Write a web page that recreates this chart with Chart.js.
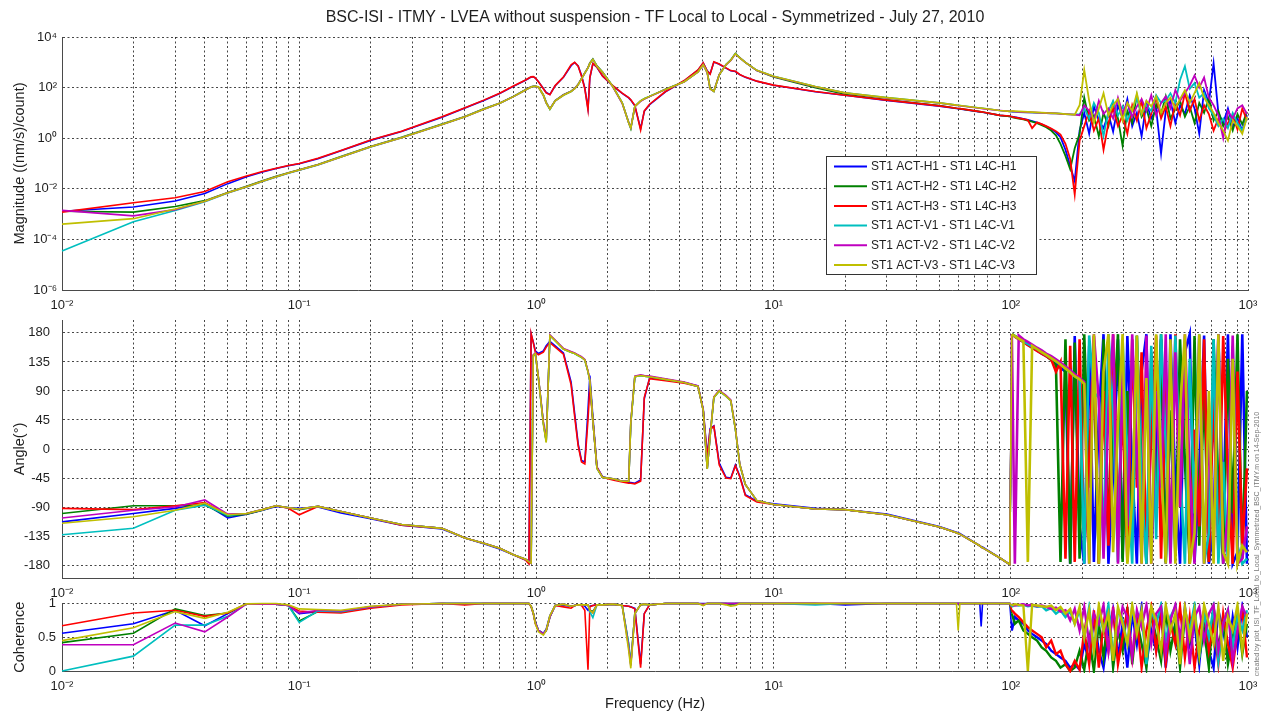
<!DOCTYPE html>
<html>
<head>
<meta charset="utf-8">
<title>BSC-ISI ITMY TF</title>
<script src="https://cdn.jsdelivr.net/npm/chart.js@4.4.1/dist/chart.umd.min.js"></script>
<style>
  body { margin: 0; background: #fff; }
  #wrap { position: relative; width: 1268px; height: 717px; }
  #wrap canvas { position: absolute; left: 0; top: 0; }
</style>
</head>
<body>
<div id="wrap">
  <canvas id="magChart" width="1268" height="717"></canvas>
  <canvas id="phaseChart" width="1268" height="717"></canvas>
  <canvas id="cohChart" width="1268" height="717"></canvas>
</div>
<script>
// ---- data ----
const freq = [
  0.01, 0.02, 0.03, 0.04, 0.05, 0.06, 0.07, 0.08, 0.09, 0.1,
  0.12, 0.15, 0.2, 0.27, 0.4, 0.5, 0.6, 0.7, 0.8, 0.9,
  0.93, 0.95, 0.97, 0.99, 1.02, 1.07, 1.1, 1.14, 1.2, 1.3,
  1.4, 1.45, 1.5, 1.55, 1.6, 1.65, 1.68, 1.73, 1.8, 1.9,
  2.1, 2.3, 2.45, 2.5, 2.6, 2.75, 2.85, 3.0, 3.5, 4.2,
  4.8, 5.05, 5.25, 5.4, 5.6, 5.9, 6.3, 6.6, 6.9, 7.2,
  7.6, 8.5, 10, 15, 20, 30, 50, 59, 60, 61, 74, 75, 76, 90,
  99, 101, 104, 108, 113, 118, 123, 129, 135, 141,
  148, 155, 162, 170, 178, 186, 195, 204, 214, 224,
  235, 246, 258, 270, 283, 296, 310, 325, 340, 356,
  373, 391, 410, 430, 450, 471, 494, 517, 542, 568,
  595, 623, 653, 684, 716, 750, 786, 823, 862, 903,
  946, 990
];

const seriesNames = [
  'ST1 ACT-H1 - ST1 L4C-H1', 'ST1 ACT-H2 - ST1 L4C-H2', 'ST1 ACT-H3 - ST1 L4C-H3',
  'ST1 ACT-V1 - ST1 L4C-V1', 'ST1 ACT-V2 - ST1 L4C-V2', 'ST1 ACT-V3 - ST1 L4C-V3'
];
const seriesColors = ['#0000ff', '#008000', '#ff0000', '#00bfbf', '#bf00bf', '#bfbf00'];

// magnitude ((nm/s)/count)
const magH1 = [
  1.3e-3, 1.9e-3, 3.3e-3, 6.5e-3, 0.016, 0.030, 0.046, 0.063, 0.081, 0.098,
  0.155, 0.32, 0.82, 1.85, 6.8, 15.5, 31, 58, 112, 195,
  235, 260, 268, 238, 172, 92, 64, 54, 118, 255,
  730, 980, 720, 300, 95, 15, 240, 880, 640, 285,
  118, 59, 39, 32, 19, 2.4, 11.5, 21, 68, 185,
  490, 930, 460, 350, 1020, 840, 590, 460, 430, 325,
  255, 178, 123, 69, 50, 31, 18.5, 15, 14.5, 14.2, 11, 10.8, 10.6, 8,
  7.3, 7.2, 6.8, 6.3, 5.8, 5.3, 4.7, 4.1, 3.5, 2.9,
  2.3, 1.7, 1.1, 0.35, 0.08, 0.02, 2, 10, 1.5, 18,
  5, 2.5, 9, 1.8, 20, 6, 35, 3, 10, 1.2,
  25, 6, 14, 0.25, 12, 30, 4, 20, 9, 50,
  15, 1.5, 80, 25, 900, 10, 4, 15, 3, 6,
  2, 8
];
const magH2 = [
  1.3e-3, 1.2e-3, 2.0e-3, 3.4e-3, 7.2e-3, 0.0125, 0.021, 0.031, 0.043, 0.056,
  0.092, 0.19, 0.47, 1.08, 3.6, 7.2, 14.5, 24, 45, 82,
  97, 107, 112, 113, 106, 52, 26, 14, 31, 52,
  72, 92, 135, 230, 380, 620, 950, 1350, 720, 410,
  112, 25, 4.2, 2.4, 18, 30, 36, 45, 86, 172,
  425, 820, 410, 92, 72, 330, 820, 1250, 2250, 1550,
  1000, 470, 260, 100, 55, 33, 19.5, 15.2, 15, 14.8, 11.2, 11, 10.8, 8,
  7.2, 6.8, 6.4, 6, 5.5, 5, 4.5, 3.9, 3.3, 2.7,
  2, 1.3, 0.6, 0.2, 0.06, 0.4, 1.5, 40, 5, 8,
  1.2, 10, 3, 25, 6, 0.5, 12, 4, 50, 7,
  15, 3, 22, 9, 45, 6, 14, 30, 7, 18,
  4, 25, 10, 40, 5, 12, 3, 7, 2, 9,
  3.5, 11
];
const magH3 = [
  1.2e-3, 2.8e-3, 4.4e-3, 7.8e-3, 0.019, 0.032, 0.048, 0.065, 0.083, 0.10,
  0.16, 0.33, 0.85, 1.9, 7, 16, 32, 60, 115, 200,
  240, 265, 270, 240, 170, 90, 62, 52, 120, 260,
  800, 1000, 700, 280, 90, 13, 250, 900, 650, 290,
  120, 60, 40, 33, 20, 2.1, 12, 22, 70, 190,
  500, 950, 450, 340, 1050, 850, 600, 470, 440, 330,
  260, 180, 125, 70, 50, 32, 19, 15.2, 15, 14.8, 11.2, 11, 10.8, 8,
  7.5, 7, 6.6, 6.2, 5.7, 5.2, 2.5, 4.2, 3.6, 3,
  2.4, 1.9, 1.4, 0.6, 0.15, 0.006, 0.8, 3, 12, 2,
  6, 0.35, 4, 15, 3, 8, 1.5, 20, 5, 30,
  2.5, 9, 40, 6, 18, 3, 25, 8, 60, 12,
  35, 5, 20, 9, 2, 6, 1.5, 4, 8, 2.2,
  15, 5
];
const magV1 = [
  3.5e-5, 5e-4, 1.4e-3, 3.1e-3, 6.8e-3, 0.0118, 0.0195, 0.029, 0.041, 0.054,
  0.088, 0.18, 0.45, 1.04, 3.5, 7, 14, 24, 44, 80,
  95, 105, 110, 112, 105, 50, 25, 14, 30, 50,
  70, 90, 130, 220, 370, 600, 900, 1300, 700, 400,
  110, 25, 4, 2.5, 18, 30, 36, 45, 85, 170,
  420, 800, 400, 90, 70, 320, 800, 1200, 2200, 1500,
  1000, 480, 280, 110, 62, 40, 25, 20.3, 20, 19.7, 15.7, 15.5, 15.3, 12.5,
  11.5, 11, 11, 10.8, 10.5, 10.5, 10.3, 10, 10, 9.8,
  9.6, 9.5, 9.3, 9, 8.8, 8.5, 9, 15, 6, 25,
  10, 1.2, 12, 30, 8, 18, 5, 14, 40, 9,
  20, 12, 50, 25, 30, 60, 25, 200, 700, 90,
  150, 40, 60, 15, 8, 3, 6, 2.5, 10, 4,
  2, 6
];
const magV2 = [
  1.4e-3, 8.5e-4, 1.5e-3, 3.2e-3, 7e-3, 0.012, 0.02, 0.03, 0.042, 0.055,
  0.09, 0.18, 0.46, 1.05, 3.5, 7, 14, 24, 44, 80,
  96, 106, 111, 112, 104, 49, 25, 14.5, 30, 51,
  71, 91, 132, 225, 375, 610, 910, 1280, 690, 395,
  108, 24, 4.1, 2.6, 17.5, 29, 35, 44, 84, 168,
  415, 790, 395, 88, 71, 325, 790, 1180, 2150, 1480,
  990, 470, 275, 108, 61, 39, 24.5, 19.8, 19.5, 19.2, 15.2, 15, 14.8, 12.5,
  11.5, 11.5, 11.2, 11, 10.8, 10.6, 10.4, 10.2, 10, 9.9,
  9.7, 9.5, 9.2, 9, 8.8, 8.6, 8, 20, 12, 5,
  30, 9, 15, 6, 40, 10, 25, 7, 18, 35,
  12, 50, 8, 25, 45, 15, 80, 30, 60, 120,
  300, 100, 250, 40, 20, 8, 1, 12, 6, 15,
  20, 9
];
const magV3 = [
  4e-4, 6.6e-4, 1.6e-3, 3.2e-3, 7e-3, 0.012, 0.02, 0.03, 0.042, 0.055,
  0.09, 0.18, 0.46, 1.05, 3.5, 7, 14, 24, 44, 80,
  95, 105, 110, 112, 105, 50, 25, 14, 30, 50,
  70, 90, 130, 220, 370, 600, 900, 1300, 700, 400,
  110, 25, 4, 2.5, 18, 30, 36, 45, 85, 170,
  420, 800, 400, 90, 70, 320, 800, 1200, 2200, 1500,
  1000, 480, 280, 110, 62, 40, 25, 20.3, 20, 19.7, 15.7, 15.5, 15.3, 12.5,
  11.5, 12, 11.8, 11.5, 11.2, 11, 10.8, 10.5, 10.3, 10,
  9.8, 9.5, 9.3, 9, 8.8, 8.5, 20, 500, 30, 4,
  15, 60, 8, 20, 35, 5, 25, 12, 60, 9,
  30, 18, 45, 10, 25, 40, 15, 35, 80, 25,
  60, 150, 40, 20, 10, 4, 2, 0.8, 5, 3,
  1.5, 7
];

// phase (degrees)
const phH1 = [
  -113, -100, -92, -85, -107, -101, -95, -89, -91, -92,
  -90, -99, -108, -118, -124, -138, -147, -155, -164, -172,
  -177, 178, 166, 152, 148, 152, 160, 167, 160, 149,
  104, 55, 8, -18, -20, 60, 114, 50, -28, -43,
  -47, -50, -52, -52, -53, -48, 78, 110, 107, 103,
  98, 62, -10, 32, 36, -22, -44, -45, -25, -42,
  -71, -81, -85, -92, -94, -101, -120, -129, -130, -131, -150, -151, -152, -169,
  -179, 178, 175, 171, 166, 162, 157, 153, 148, 144,
  139, 133, 126, 120, -178, 175, -120, -178, 160, -175,
  50, 178, -178, -40, 170, -170, 175, -30, -178, 120,
  178, -160, -10, 170, -178, 178, -60, -178, 150, 178,
  -175, -40, 176, -178, -120, 178, -100, 178, -178, -160,
  178, -178
];
const phH2 = [
  -100, -88, -88, -87, -104, -101, -95, -88, -91, -94,
  -89, -97, -107, -117, -123, -138, -146, -154, -164, -171,
  -174, -177, 145, 148, 110, 40, 12, 176, 168, 155,
  150, 148, 145, 142, 138, 120, 106, 44, -30, -44,
  -46, -50, -50, 40, 112, 114, 113, 112, 108, 103,
  97, 60, -31, 20, 80, 90, 82, 75, 31, -24,
  -55, -80, -86, -93, -94, -102, -121, -130, -131, -132, -150, -152, -153, -169,
  -179, 178, 175, 171, 167, 163, 158, 154, 149, 145,
  138, 130, -175, 170, -178, 165, -170, 178, -60, 120,
  -178, 170, -120, 40, 178, -175, 90, -140, 176, -30,
  -178, 150, -100, 178, -175, 60, -165, 170, -20, -178,
  175, -150, 100, -175, 170, -60, -178, 140, -100, 178,
  -170, 90
];
const phH3 = [
  -92, -94, -88, -83, -102, -100, -94, -88, -92, -102,
  -89, -97, -107, -118, -123, -138, -146, -154, -164, -172,
  -178, 179, 165, 150, 146, 150, 158, 165, 158, 147,
  100, 50, 5, -20, -23, 45, 96, 44, -28, -44,
  -48, -51, -53, -53, -54, -50, 80, 109, 106, 102,
  97, 60, -13, 30, 35, -25, -45, -46, -26, -43,
  -72, -82, -86, -93, -94, -102, -121, -130, -131, -132, -150, -152, -153, -169,
  -179, 178, 174, 170, 166, 161, 157, 152, 148, 144,
  139, 120, 135, -170, 160, -175, 170, -160, -20, 175,
  -178, 90, -150, 178, -100, 60, -175, 170, -60, 150,
  -178, 20, 176, -170, 100, -140, 178, -90, 165, -178,
  30, -120, 170, -175, 80, -160, 175, -40, -178, 120,
  -150, -30
];
const phV1 = [
  -133, -123, -95, -87, -103, -100, -94, -88, -91, -93,
  -89, -97, -107, -117, -123, -138, -146, -154, -164, -171,
  -174, -177, 145, 148, 110, 40, 12, 176, 168, 155,
  150, 148, 145, 142, 138, 120, 106, 44, -30, -44,
  -46, -50, -50, 40, 112, 114, 113, 112, 108, 103,
  97, 60, -31, 20, 80, 90, 82, 75, 31, -24,
  -55, -80, -86, -93, -94, -102, -121, -130, -131, -132, -150, -152, -153, -169,
  -179, 178, 175, 171, 167, 163, 159, 155, 150, 146,
  141, 136, 131, 125, 119, 113, 108, -178, 176, 87,
  80, -150, 178, 55, -175, 170, -20, -178, 175, -60,
  -178, 160, -140, 178, 10, -175, 176, -30, -178, 140,
  -100, 178, -178, -130, 170, -178, -20, -178, 160, -150,
  -178, -170
];
const phV2 = [
  -107, -95, -90, -79, -101, -100, -94, -88, -91, -93,
  -89, -97, -107, -117, -123, -138, -146, -154, -164, -171,
  -174, -177, 146, 149, 111, 42, 13, 177, 169, 156,
  151, 149, 146, 143, 139, 121, 107, 45, -29, -44,
  -46, -50, -50, 42, 113, 115, 114, 113, 109, 104,
  98, 61, -30, 21, 81, 91, 83, 76, 32, -23,
  -55, -80, -86, -93, -94, -102, -121, -130, -131, -132, -150, -152, -153, -169,
  -179, 178, -178, 176, 170, 166, 162, 157, 153, 148,
  144, 139, 134, 128, 122, 116, 110, 104, -178, 178,
  75, -170, 60, 178, -178, 120, -120, 178, -10, -178,
  176, -178, 90, -60, 178, -178, 150, -90, 178, -40,
  -178, 176, -178, 30, -160, 178, -178, -100, 176, -178,
  -170, -120
];
const phV3 = [
  -115, -105, -95, -84, -102, -100, -94, -88, -91, -93,
  -89, -97, -107, -117, -123, -138, -146, -154, -164, -171,
  -175, -177, 145, 148, 110, 38, 10, 176, 168, 155,
  150, 148, 145, 142, 138, 120, 106, 44, -30, -44,
  -46, -50, -50, 40, 112, 114, 113, 112, 108, 103,
  97, 60, -31, 20, 80, 90, 82, 75, 31, -24,
  -55, -80, -86, -93, -94, -102, -121, -130, -131, -132, -150, -152, -153, -169,
  -179, 178, 175, 171, 167, -175, 160, 155, 150, 146,
  141, 136, 131, 125, 119, 113, 108, 101, -178, 178,
  -178, 120, 178, -160, 40, 178, -178, -80, 176, -178,
  110, -178, 178, -20, -178, 170, -178, 60, 178, -178,
  -130, 178, -178, 90, -178, 178, -160, -178, 140, -178,
  -150, -160
];

// coherence
const cohH1 = [
  0.56, 0.70, 0.90, 0.67, 0.85, 0.995, 0.99, 0.99, 0.97, 0.85,
  0.88, 0.88, 0.94, 0.99, 1, 1, 1, 1, 1, 1,
  1, 0.96, 0.86, 0.72, 0.6, 0.56, 0.62, 0.82, 0.97, 0.97,
  0.96, 0.97, 0.98, 0.98, 0.96, 0.9, 0.96, 0.97, 0.98, 0.98,
  0.99, 0.97, 0.96, 0.95, 0.93, 0.1, 0.85, 0.98, 1, 1,
  1, 1, 1, 1, 1, 1, 1, 1, 1, 1,
  1, 1, 1, 1, 0.98, 1, 1, 1, 1, 1, 1, 0.66, 1, 1,
  1, 0.6, 0.8, 0.75, 0.7, 0.6, 0.55, 0.5, 0.45, 0.4,
  0.3, 0.25, 0.2, 0.15, 0.05, 0.1, 0.02, 0.4, 0.15, 0.8,
  0.3, 0.05, 0.6, 0.9, 0.2, 0.7, 0.05, 0.85, 0.4, 0.95,
  0.1, 0.6, 0.3, 0.9, 0.05, 0.75, 0.5, 0.2, 0.95, 0.4,
  0.7, 0.1, 0.85, 0.3, 0.05, 0.9, 0.6, 0.2, 0.8, 0.35,
  0.95, 0.5
];
const cohH2 = [
  0.42, 0.56, 0.92, 0.82, 0.86, 0.995, 0.99, 0.99, 0.97, 0.74,
  0.88, 0.87, 0.94, 0.99, 1, 1, 1, 1, 1, 1,
  1, 0.96, 0.86, 0.72, 0.6, 0.55, 0.6, 0.8, 0.97, 0.99,
  0.96, 0.97, 0.98, 0.98, 0.98, 0.98, 0.9, 0.88, 0.98, 0.98,
  0.99, 0.97, 0.4, 0.1, 0.86, 0.98, 0.99, 0.98, 1, 1,
  1, 0.98, 1, 1, 1, 1, 1, 0.98, 1, 1,
  1, 1, 1, 1, 1, 1, 1, 1, 1, 1, 1, 1, 1, 1,
  1, 0.85, 0.7, 0.75, 0.6, 0.55, 0.5, 0.45, 0.35, 0.3,
  0.2, 0.15, 0.05, 0.1, 0.0, 0.05, 0.3, 0.02, 0.5, 0.0,
  0.7, 0.2, 0.9, 0.05, 0.6, 0.3, 0.95, 0.1, 0.75, 0.4,
  0.05, 0.85, 0.5, 0.15, 0.9, 0.3, 0.7, 0.05, 0.8, 0.45,
  0.9, 0.2, 0.6, 0.05, 0.95, 0.35, 0.75, 0.1, 0.5, 0.85,
  0.25, 0.7
];
const cohH3 = [
  0.67, 0.86, 0.90, 0.81, 0.86, 0.995, 0.99, 0.99, 0.97, 0.89,
  0.87, 0.86, 0.93, 0.98, 1, 0.98, 1, 1, 1, 1,
  1, 0.95, 0.85, 0.7, 0.6, 0.55, 0.6, 0.8, 0.97, 0.95,
  0.93, 0.97, 0.98, 0.97, 0.9, 0.02, 0.95, 0.97, 0.98, 0.98,
  0.99, 0.97, 0.96, 0.95, 0.92, 0.05, 0.85, 0.98, 1, 1,
  1, 0.99, 1, 1, 1, 1, 1, 1, 1, 1,
  1, 1, 1, 1, 1, 1, 1, 1, 1, 1, 1, 1, 1, 1,
  1, 0.9, 0.85, 0.8, 0.72, 0.65, 0.6, 0.55, 0.5, 0.35,
  0.45, 0.25, 0.3, 0.1, 0.0, 0.15, 0.02, 0.6, 0.1, 0.9,
  0.05, 0.7, 0.3, 0.95, 0.1, 0.5, 0.9, 0.2, 0.8, 0.05,
  0.6, 0.95, 0.3, 0.85, 0.1, 0.7, 0.4, 0.95, 0.2, 0.8,
  0.05, 0.6, 0.9, 0.3, 0.7, 0.1, 0.85, 0.4, 0.05, 0.6,
  0.9, 0.2
];
const cohV1 = [
  0.0, 0.22, 0.68, 0.68, 0.81, 0.995, 0.99, 0.99, 0.97, 0.72,
  0.89, 0.88, 0.95, 0.99, 1, 1, 1, 1, 1, 1,
  1, 0.96, 0.86, 0.72, 0.6, 0.55, 0.6, 0.8, 0.97, 0.99,
  0.96, 0.97, 0.98, 0.98, 0.98, 0.98, 0.88, 0.79, 0.98, 0.98,
  0.99, 0.97, 0.4, 0.1, 0.85, 0.98, 0.99, 0.98, 1, 1,
  1, 0.98, 1, 1, 1, 1, 1, 1, 1, 1,
  1, 1, 1, 0.98, 1, 1, 1, 1, 1, 1, 1, 1, 1, 1,
  1, 0.95, 0.98, 0.97, 0.98, 0.96, 0.97, 0.95, 0.96, 0.9,
  0.93, 0.85, 0.9, 0.8, 0.88, 0.7, 0.9, 0.5, 0.95, 0.3,
  0.85, 0.6, 0.98, 0.2, 0.9, 0.75, 0.4, 0.95, 0.6, 0.85,
  0.1, 0.9, 0.7, 0.98, 0.45, 0.8, 0.95, 0.3, 0.9, 0.6,
  0.98, 0.2, 0.85, 0.5, 0.95, 0.15, 0.7, 0.9, 0.35, 0.8,
  0.6, 0.9
];
const cohV2 = [
  0.39, 0.39, 0.71, 0.58, 0.80, 0.995, 0.99, 0.99, 0.97, 0.86,
  0.9, 0.89, 0.95, 0.99, 1, 1, 1, 1, 1, 1,
  1, 0.96, 0.86, 0.72, 0.6, 0.55, 0.6, 0.8, 0.97, 0.99,
  0.96, 0.97, 0.98, 0.98, 0.98, 0.98, 0.9, 0.86, 0.98, 0.98,
  0.99, 0.97, 0.35, 0.08, 0.85, 0.98, 0.99, 0.98, 1, 1,
  1, 0.98, 1, 1, 1, 1, 1, 1, 1, 1,
  1, 1, 1, 1, 1, 1, 1, 1, 1, 1, 1, 1, 1, 1,
  1, 0.98, 0.97, 0.98, 0.99, 0.97, 0.98, 0.96, 0.97, 0.95,
  0.92, 0.94, 0.88, 0.9, 0.75, 0.92, 0.6, 0.95, 0.4, 0.85,
  0.7, 0.98, 0.3, 0.9, 0.55, 0.95, 0.8, 0.2, 0.9, 0.65,
  0.98, 0.4, 0.85, 0.95, 0.25, 0.75, 0.98, 0.5, 0.9, 0.1,
  0.8, 0.95, 0.45, 0.85, 0.98, 0.3, 0.7, 0.9, 0.15, 0.6,
  0.95, 0.8
];
const cohV3 = [
  0.45, 0.64, 0.88, 0.78, 0.87, 0.995, 1, 1, 0.98, 0.92,
  0.91, 0.9, 0.96, 0.99, 1, 1, 1, 1, 1, 1,
  1, 0.96, 0.86, 0.7, 0.58, 0.53, 0.6, 0.82, 0.97, 0.99,
  0.96, 0.97, 0.98, 0.98, 0.98, 0.98, 0.9, 0.86, 0.98, 0.98,
  0.99, 0.97, 0.3, 0.04, 0.85, 0.98, 0.99, 0.98, 1, 1,
  1, 0.97, 1, 1, 1, 1, 0.98, 0.96, 0.97, 1,
  1, 1, 1, 1, 1, 1, 1, 1, 0.6, 1, 1, 1, 1, 1,
  1, 0.97, 0.99, 0.98, 0.97, 0.0, 0.98, 0.97, 0.96, 0.95,
  0.97, 0.9, 0.95, 0.85, 0.92, 0.7, 0.95, 0.5, 0.9, 0.3,
  0.98, 0.6, 0.85, 0.15, 0.95, 0.7, 0.4, 0.98, 0.55, 0.9,
  0.2, 0.95, 0.75, 0.3, 0.98, 0.6, 0.85, 0.1, 0.95, 0.5,
  0.9, 0.25, 0.98, 0.7, 0.4, 0.95, 0.15, 0.8, 0.6, 0.98,
  0.3, 0.85
];

// tick values and labels
const xDecades = [0.01, 0.1, 1, 10, 100, 1000];
const xDecadeLabels = ['10⁻²', '10⁻¹', '10⁰', '10¹', '10²', '10³'];
const magTicks = [1e-6, 1e-4, 1e-2, 1, 1e2, 1e4];
const magTickLabels = ['10⁻⁶', '10⁻⁴', '10⁻²', '10⁰', '10²', '10⁴'];
const angleTicks = [-180, -135, -90, -45, 0, 45, 90, 135, 180];
const cohTicks = [0, 0.5, 1];

// minor grid lines at 2..9 of every decade
const xGridValues = [];
xDecades.forEach((d, i) => {
  if (i === xDecades.length - 1) { xGridValues.push(d); return; }
  for (let k = 1; k < 10; k++) xGridValues.push(+(d * k).toPrecision(3));
});

// ---- styling ----
const FONT = '"Liberation Sans", Arial, Helvetica, sans-serif';
const TEXT = '#1e1e1e';
Chart.defaults.font.family = FONT;
Chart.defaults.color = TEXT;

const GRID = { color: 'rgba(0,0,0,0.72)', lineWidth: 1, drawTicks: false };
const BORDER = { color: '#4a4a4a', width: 1, dash: [2, 2.5] };
const LEFT = 62, RIGHT = 1248;

// noisyWidth: thicker strokes above 100 Hz where the traces pile up
function makeDatasets(arrays, noisyWidth) {
  return arrays.map((values, i) => ({
    label: seriesNames[i],
    data: values,
    borderColor: seriesColors[i],
    backgroundColor: seriesColors[i],
    borderWidth: 1.6,
    pointRadius: 0,
    tension: 0,
    fill: false,
    clip: 2,
    segment: {
      borderWidth: ctx => (noisyWidth && ctx.p0.parsed.x >= 100 ? noisyWidth : undefined)
    },
    order: arrays.length - i   // later series drawn on top, like MATLAB
  }));
}

function xScale(height, withTitle) {
  return {
    type: 'logarithmic',
    min: 0.01,
    max: 1000,
    afterBuildTicks: s => { s.ticks = xGridValues.map(v => ({ value: v })); },
    afterFit: s => { s.height = height; s.paddingLeft = 0; s.paddingRight = 0; },
    ticks: {
      autoSkip: false, maxRotation: 0, minRotation: 0, padding: 8,
      font: { size: 13 }, color: TEXT,
      callback: v => { const k = xDecades.indexOf(v); return k < 0 ? '' : xDecadeLabels[k]; }
    },
    grid: GRID,
    border: BORDER,
    title: {
      display: withTitle, text: 'Frequency (Hz)', color: TEXT,
      font: { size: 14.5 }, padding: { top: 0, bottom: 4 }
    }
  };
}

function yScale(base, titleText, tickPad) {
  return Object.assign({
    afterFit: s => { s.width = LEFT; s.paddingTop = 0; s.paddingBottom = 0; },
    grid: GRID,
    border: BORDER,
    title: {
      display: true, text: titleText, color: TEXT,
      font: { size: 14.5 }, padding: { top: 11, bottom: 0 }
    }
  }, base, {
    ticks: Object.assign({ autoSkip: false, padding: tickPad, font: { size: 13 }, color: TEXT }, base.ticks)
  });
}

// legend box drawn inside the magnitude panel
const legendBox = {
  id: 'legendBox',
  afterDraw(chart) {
    const ctx = chart.ctx;
    const x0 = 826, y0 = 156, w = 210, h = 118, row = 19.7;
    ctx.save();
    ctx.fillStyle = '#fff';
    ctx.fillRect(x0, y0, w, h);
    ctx.strokeStyle = '#333';
    ctx.lineWidth = 1;
    ctx.strokeRect(x0 + 0.5, y0 + 0.5, w, h);
    ctx.font = '12px ' + FONT;
    ctx.textBaseline = 'middle';
    chart.data.datasets.forEach((ds, i) => {
      const y = y0 + 10.5 + i * row;
      ctx.strokeStyle = ds.borderColor;
      ctx.lineWidth = 2;
      ctx.beginPath();
      ctx.moveTo(x0 + 8, y);
      ctx.lineTo(x0 + 41, y);
      ctx.stroke();
      ctx.fillStyle = TEXT;
      ctx.fillText(ds.label, x0 + 45, y + 0.5);
    });
    ctx.restore();
  }
};

// small rotated "created by" note at the right edge
const creatorNote = {
  id: 'creatorNote',
  afterDraw(chart) {
    const ctx = chart.ctx;
    ctx.save();
    ctx.translate(1257, 544);
    ctx.rotate(-Math.PI / 2);
    ctx.font = '7px ' + FONT;
    ctx.fillStyle = '#777';
    ctx.textAlign = 'center';
    ctx.textBaseline = 'middle';
    ctx.fillText('created by plot_ISI_TF_Local_to_Local_Symmetrized_BSC_ITMY.m on 14-Sep-2010', 0, 0);
    ctx.restore();
  }
};

const common = {
  responsive: false,
  animation: false,
  devicePixelRatio: 1,
  events: [],
  plugins: { legend: { display: false }, tooltip: { enabled: false } }
};

// ---- magnitude ----
new Chart(document.getElementById('magChart'), {
  type: 'line',
  data: { labels: freq, datasets: makeDatasets([magH1, magH2, magH3, magV1, magV2, magV3], 1.8) },
  options: Object.assign({}, common, {
    layout: { padding: { left: 0, right: 1268 - RIGHT, top: 0, bottom: 717 - 290 - 30 } },
    plugins: {
      legend: { display: false },
      tooltip: { enabled: false },
      title: {
        display: true, fullSize: false, color: TEXT,
        text: 'BSC-ISI - ITMY - LVEA without suspension - TF Local to Local - Symmetrized - July 27, 2010',
        font: { size: 16, weight: 'normal' }, padding: { top: 8, bottom: 9.8 }
      }
    },
    scales: {
      x: xScale(30, false),
      y: yScale({
        type: 'logarithmic', min: 1e-6, max: 1e4,
        afterBuildTicks: s => { s.ticks = magTicks.map(v => ({ value: v })); },
        ticks: { callback: v => { const k = magTicks.indexOf(v); return k < 0 ? '' : magTickLabels[k]; } }
      }, 'Magnitude ((nm/s)/count)', 5)
    }
  }),
  plugins: [legendBox]
});

// ---- phase ----
new Chart(document.getElementById('phaseChart'), {
  type: 'line',
  data: { labels: freq, datasets: makeDatasets([phH1, phH2, phH3, phV1, phV2, phV3], 2.6) },
  options: Object.assign({}, common, {
    layout: { padding: { left: 0, right: 1268 - RIGHT, top: 320, bottom: 717 - 578 - 30 } },
    scales: {
      x: xScale(30, false),
      y: yScale({
        type: 'linear', min: -200, max: 200,
        afterBuildTicks: s => { s.ticks = angleTicks.map(v => ({ value: v })); },
        ticks: { callback: v => String(v) }
      }, 'Angle(°)', 12)
    }
  })
});

// ---- coherence ----
new Chart(document.getElementById('cohChart'), {
  type: 'line',
  data: { labels: freq, datasets: makeDatasets([cohH1, cohH2, cohH3, cohV1, cohV2, cohV3], 2.4) },
  options: Object.assign({}, common, {
    layout: { padding: { left: 0, right: 1268 - RIGHT, top: 603.5, bottom: 0 } },
    scales: {
      x: xScale(46, true),
      y: yScale({
        type: 'linear', min: 0, max: 1,
        afterBuildTicks: s => { s.ticks = cohTicks.map(v => ({ value: v })); },
        ticks: { callback: v => String(v) }
      }, 'Coherence', 6)
    }
  }),
  plugins: [creatorNote]
});
</script>
</body>
</html>
